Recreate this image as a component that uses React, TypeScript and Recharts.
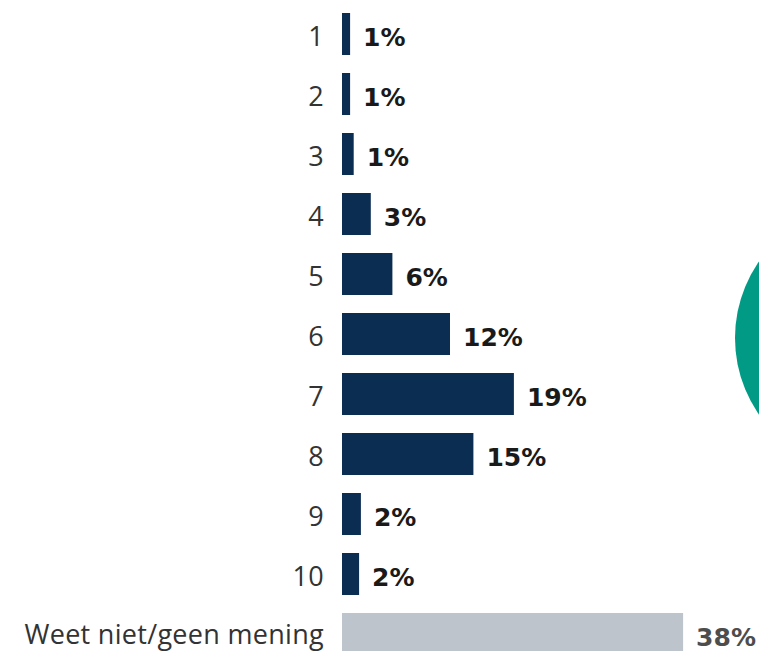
import { BarChart, Bar, XAxis, YAxis, Cell, LabelList } from 'recharts';

// Rating scale 1–10 plus "don't know"
const categories = ['1', '2', '3', '4', '5', '6', '7', '8', '9', '10', 'Weet niet/geen mening'];
const shares     = [0.9, 0.9, 1.3, 3.2, 5.6, 12.0, 19.1, 14.6, 2.1, 1.9, 37.9];
const shareLabels = ['1%', '1%', '1%', '3%', '6%', '12%', '19%', '15%', '2%', '2%', '38%'];

const NAVY = '#0b2d52';
const GREY = '#bec4cc';
const TEAL = '#009a85';
const CAT_FONT = '"Open Sans", "Noto Sans", sans-serif';
const VAL_FONT = '"DejaVu Sans", "Open Sans", sans-serif';

const data = categories.map((name, i) => ({ name, value: shares[i], label: shareLabels[i] }));
const isDontKnow = (i: number) => i === categories.length - 1;

function CategoryTick(props: any) {
  const { x, y, payload, index } = props;
  // the last row sits at the bottom edge, keep its descenders inside the frame
  const shift = isDontKnow(index) ? 0 : 2.5;
  return (
    <text
      x={x}
      y={y + shift}
      dy="0.36em"
      textAnchor="end"
      fontFamily={CAT_FONT}
      fontSize={27}
      letterSpacing={0.3}
      fill="#333333"
    >
      {payload.value}
    </text>
  );
}

function ValueLabel(props: any) {
  const { x, y, width, height, index } = props;
  return (
    <text
      x={x + width + 13}
      y={y + height / 2 + 2.5}
      dy="0.36em"
      textAnchor="start"
      fontFamily={VAL_FONT}
      fontWeight={700}
      fontSize={25}
      fill={isDontKnow(index) ? '#4d4d4d' : '#1a1a1a'}
    >
      {shareLabels[index]}
    </text>
  );
}

export default function App() {
  return (
    <div style={{ position: 'absolute', top: 0, left: 0, width: 759, height: 651, overflow: 'hidden', background: '#fff' }}>
      {/* teal disc peeking in from the right edge */}
      <div
        style={{
          position: 'absolute',
          left: 735,
          top: 338 - 134,
          width: 268,
          height: 268,
          borderRadius: '50%',
          background: TEAL,
        }}
      />
      <BarChart
        width={759}
        height={664}
        data={data}
        layout="vertical"
        barSize={42}
        margin={{ top: 4, right: 12, left: 0, bottom: 0 }}
      >
        <XAxis type="number" domain={[0, 45]} hide />
        <YAxis
          type="category"
          dataKey="name"
          width={342}
          axisLine={false}
          tickLine={false}
          tickMargin={12}
          interval={0}
          tick={<CategoryTick />}
        />
        <Bar dataKey="value" isAnimationActive={false}>
          {data.map((d, i) => (
            <Cell key={d.name} fill={isDontKnow(i) ? GREY : NAVY} />
          ))}
          <LabelList dataKey="label" content={<ValueLabel />} />
        </Bar>
      </BarChart>
    </div>
  );
}
